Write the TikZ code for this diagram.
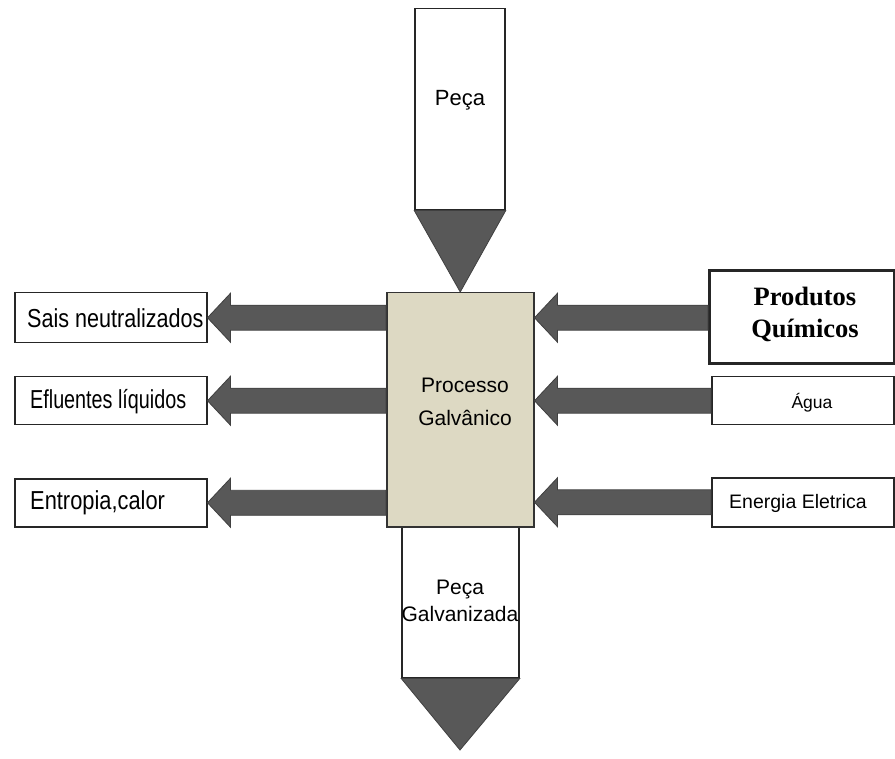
\documentclass[tikz,border=0pt]{standalone}
\usepackage{fontspec}
\setmainfont{Liberation Sans}
\newfontfamily\serifbf{Liberation Serif}
\usetikzlibrary{calc}
\definecolor{arrgray}{RGB}{88,88,88}
\definecolor{procfill}{RGB}{221,217,195}
\tikzset{
  box/.style={draw=black!85, line width=1.5pt, fill=white, inner sep=0pt},
  arrowshape/.style={fill=arrgray, draw=black!75, line width=0.8pt, line join=miter},
  lbl/.style={inner sep=0pt, align=center},
}
\newcommand\sidearrow[2]{%
  \draw[arrowshape] let \p1=(#1), \p2=(#2) in
    (\x1,\y1+12.5pt) -- (\x2+23pt,\y1+12.5pt) -- (\x2+23pt,\y1+24.5pt) -- (\x2,\y1)
    -- (\x2+23pt,\y1-24.5pt) -- (\x2+23pt,\y1-12.5pt) -- (\x1,\y1-12.5pt) -- cycle;}
\begin{document}
\begin{tikzpicture}[x=1pt,y=-1pt]
\useasboundingbox (0,0) rectangle (895,759);
% top input
\node[box, minimum width=90, minimum height=201, anchor=north] (peca) at (460,8) {};
\node[lbl, font=\fontsize{22}{26}\selectfont] at (460,100) {Peça};
% bottom output
\node[box, minimum width=117, minimum height=151, anchor=north] (pg) at (460.5,526) {};
\coordinate (pgtip) at (460,750);
\node[lbl, font=\fontsize{21}{27}\selectfont] at (460,601) {Peça\\Galvanizada};
% central process
\node[draw=black!80, fill=procfill, line width=1.5pt, minimum width=147, minimum height=234,
      anchor=north west, inner sep=0pt] (proc) at (386,292) {};
\node[lbl, font=\fontsize{21}{33}\selectfont] at (465,402) {Processo\\Galvânico};
\draw[arrowshape] (peca.south west) -- (peca.south east) -- (proc.north) -- cycle;
\draw[arrowshape] (pg.south west) -- (pg.south east) -- (pgtip) -- cycle;
% left outputs
\node[box, minimum width=192, minimum height=50, anchor=north west] (sais) at (14,292) {};
\node[box, minimum width=192, minimum height=48, anchor=north west] (eflu) at (14,376) {};
\node[box, minimum width=192, minimum height=48, anchor=north west] (entr) at (14,478) {};
\node[lbl, anchor=west, font=\fontsize{26}{30}\selectfont] at ($(sais.west)+(13,0)$) {\scalebox{0.83}[1]{Sais neutralizados}};
\node[lbl, anchor=west, font=\fontsize{26}{30}\selectfont] at ($(eflu.west)+(16,1)$) {\scalebox{0.76}[1]{Efluentes líquidos}};
\node[lbl, anchor=west, font=\fontsize{26}{30}\selectfont] at ($(entr.west)+(16,0)$) {\scalebox{0.84}[1]{Entropia,calor}};
\sidearrow{proc.west |- sais.east}{sais.east}
\sidearrow{proc.west |- eflu.east}{eflu.east}
\sidearrow{proc.west |- entr.east}{entr.east}
% right inputs
\node[box, line width=3pt, minimum width=185, minimum height=93, anchor=north west] (prod) at (708,269) {};
\node[box, minimum width=182, minimum height=48, anchor=north west] (agua) at (711,376) {};
\node[box, minimum width=182, minimum height=49, anchor=north west] (ener) at (711,477) {};
\node[lbl, font=\serifbf\bfseries\fontsize{26.5}{32}\selectfont] at (805,314) {Produtos\\Químicos};
\node[lbl, font=\fontsize{17.5}{20}\selectfont] at (812,403) {Água};
\node[lbl, font=\fontsize{19.5}{22}\selectfont] at (798,503) {Energia Eletrica};
\sidearrow{prod.west |- sais.east}{proc.east |- sais.east}
\sidearrow{agua.west}{proc.east |- agua.west}
\sidearrow{ener.west}{proc.east |- ener.west}
\end{tikzpicture}
\end{document}
